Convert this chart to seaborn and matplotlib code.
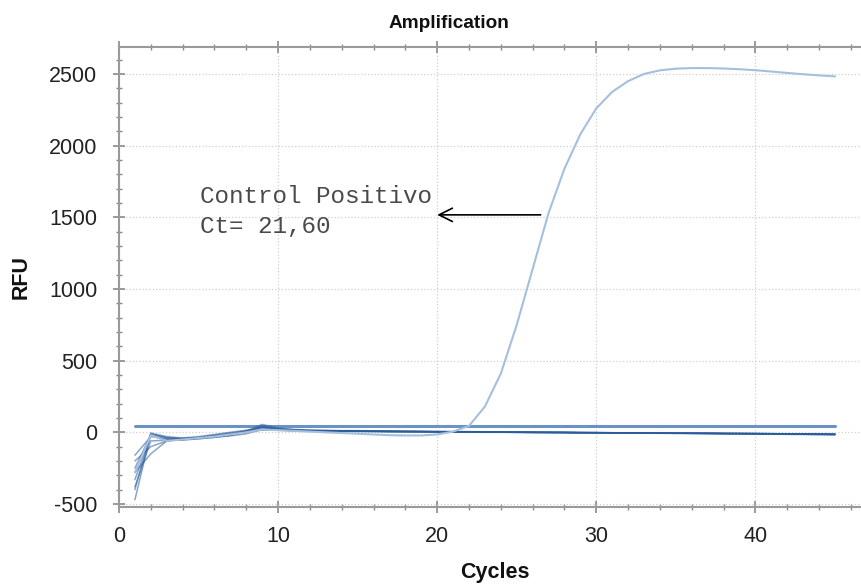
import numpy as np
import pandas as pd
import matplotlib
matplotlib.use("Agg")
import matplotlib.pyplot as plt
from matplotlib.ticker import MultipleLocator
import seaborn as sns

cycles = list(range(1, 46))

# positive control (RFU per cycle)
positivo = [-280, -20, -60, -50, -40, -30, -15, 0, 20, 15,
            10, 5, 0, -5, -10, -15, -20, -22, -22, -15,
            5, 45, 180, 410, 750, 1140, 1530, 1840, 2080, 2260,
            2375, 2450, 2500, 2525, 2537, 2541, 2541, 2538, 2533, 2526,
            2517, 2507, 2498, 2490, 2483]

# negative samples
neg1 = [-470, -10, -40, -50, -45, -35, -25, -10, 20, 25,
        20, 15, 14, 12, 12, 10, 10, 8, 8, 6,
        6, 5, 4, 4, 2, 2, 0, 0, -2, -2,
        -4, -4, -5, -6, -6, -8, -8, -10, -10, -12,
        -12, -14, -14, -16, -18]
neg2 = [-400, -5, -30, -40, -38, -30, -20, 0, 30, 20,
        15, 12, 10, 10, 8, 8, 6, 6, 5, 4,
        4, 3, 2, 2, 1, 0, 0, -1, -2, -3,
        -3, -4, -5, -5, -6, -7, -8, -8, -9, -10,
        -10, -11, -12, -13, -14]
neg3 = [-330, -20, -50, -55, -45, -35, -20, 10, 55, 30,
        18, 14, 12, 10, 9, 8, 6, 6, 4, 4,
        3, 2, 2, 1, 0, 0, -1, -1, -2, -2,
        -3, -4, -4, -5, -5, -6, -6, -7, -8, -8,
        -9, -10, -10, -11, -12]
neg4 = [-280, -150, -60, -50, -40, -25, -10, 5, 40, 20,
        12, 10, 8, 8, 7, 6, 6, 5, 4, 3,
        3, 2, 1, 1, 0, -1, -1, -2, -3, -3,
        -4, -5, -5, -6, -7, -7, -8, -9, -9, -10,
        -11, -12, -12, -13, -14]
neg5 = [-200, -100, -60, -45, -35, -20, -5, 10, 35, 25,
        15, 10, 9, 8, 8, 7, 6, 5, 5, 4,
        3, 3, 2, 1, 1, 0, -1, -1, -2, -3,
        -3, -4, -5, -5, -6, -7, -7, -8, -9, -9,
        -10, -11, -12, -13, -14]
neg6 = [-160, -30, -45, -40, -30, -15, 0, 15, 25, 20,
        14, 12, 10, 9, 8, 8, 7, 6, 5, 5,
        4, 3, 2, 2, 1, 0, 0, -1, -2, -2,
        -3, -4, -4, -5, -6, -6, -7, -8, -8, -9,
        -10, -10, -11, -12, -12]
neg7 = [-380, -60, -55, -50, -40, -30, -15, 5, 15, 15,
        10, 8, 7, 6, 6, 5, 4, 4, 3, 2,
        2, 1, 0, 0, -1, -2, -2, -3, -4, -4,
        -5, -6, -6, -7, -8, -8, -9, -10, -11, -12,
        -13, -14, -15, -16, -17]
neg8 = [-250, -15, -35, -45, -40, -30, -15, 0, 45, 20,
        12, 10, 9, 8, 7, 7, 6, 5, 5, 4,
        3, 3, 2, 1, 1, 0, -1, -1, -2, -3,
        -3, -4, -5, -5, -6, -6, -7, -8, -8, -9,
        -10, -11, -11, -12, -13]

threshold = 45
threshold_span = [1, 45]

negativos = {"N1": neg1, "N2": neg2, "N3": neg3, "N4": neg4,
             "N5": neg5, "N6": neg6, "N7": neg7, "N8": neg8}

neg_df = pd.concat(
    [pd.DataFrame({"cycle": cycles, "rfu": v, "sample": k}) for k, v in negativos.items()],
    ignore_index=True)
pos_df = pd.DataFrame({"cycle": cycles, "rfu": positivo})
thr_df = pd.DataFrame({"cycle": threshold_span, "rfu": [threshold] * 2})

sns.set_style("white")
plt.rcParams["font.family"] = ["Liberation Sans", "DejaVu Sans"]
plt.rcParams["axes.unicode_minus"] = False

fig = plt.figure(figsize=(8.62, 5.84), dpi=100)
ax = fig.add_axes([119 / 862, 77 / 584, 743 / 862, 460 / 584])

sns.lineplot(data=thr_df, x="cycle", y="rfu", color="#6a93c4", lw=2.2, ax=ax)
sns.lineplot(data=neg_df, x="cycle", y="rfu", units="sample", estimator=None,
             color="#2a5c9c", alpha=0.55, lw=1.1, ax=ax)
sns.lineplot(data=pos_df, x="cycle", y="rfu", color="#a5bfdd", lw=1.5, ax=ax)

ax.set_xlim(0, 46.7)
ax.set_ylim(-521, 2688)
ax.xaxis.set_major_locator(MultipleLocator(10))
ax.xaxis.set_minor_locator(MultipleLocator(2))
ax.yaxis.set_major_locator(MultipleLocator(500))
ax.yaxis.set_minor_locator(MultipleLocator(100))
ax.grid(True, which="major", ls=":", color="#d0d0d0", lw=0.9)
ax.tick_params(which="major", direction="inout", length=9, width=1.2, color="#8a8a8a",
               labelsize=15.5, labelcolor="#222222", top=True, left=True, bottom=True)
ax.tick_params(axis="y", which="major", pad=11)
ax.tick_params(axis="x", which="major", pad=9)
ax.tick_params(which="minor", direction="inout", length=5, width=1.0, color="#8a8a8a",
               top=True, left=True, bottom=True)
ax.tick_params(axis="x", which="both", labeltop=False)
for s in ["left", "bottom", "top"]:
    ax.spines[s].set_color("#9a9a9a")
    ax.spines[s].set_linewidth(1.5)
ax.spines["right"].set_visible(False)
ax.set_xlabel("")
ax.set_ylabel("")

ax.annotate("", xy=(20.0, 1517), xytext=(26.5, 1517),
            arrowprops=dict(arrowstyle="->", color="black", lw=1.2, mutation_scale=24,
                            shrinkA=0, shrinkB=0))
ax.text(5.1, 1600, "Control Positivo", family="Liberation Mono", fontsize=17.5,
        color="#4a4a4a", va="baseline")
ax.text(5.1, 1391, "Ct= 21,60", family="Liberation Mono", fontsize=17.5,
        color="#4a4a4a", va="baseline")

fig.text(449 / 862, 1 - 28 / 584, "Amplification", ha="center", va="baseline",
         fontsize=13.7, fontweight="bold", color="#111111")
fig.text(495 / 862, 1 - 578 / 584, "Cycles", ha="center", va="baseline",
         fontsize=15.5, fontweight="bold", color="#111111")
fig.text(21 / 862, 1 - 277 / 584, "RFU", ha="center", va="center", rotation=90,
         fontsize=15.5, fontweight="bold", color="#111111")

fig.savefig("out.png", dpi=100)
